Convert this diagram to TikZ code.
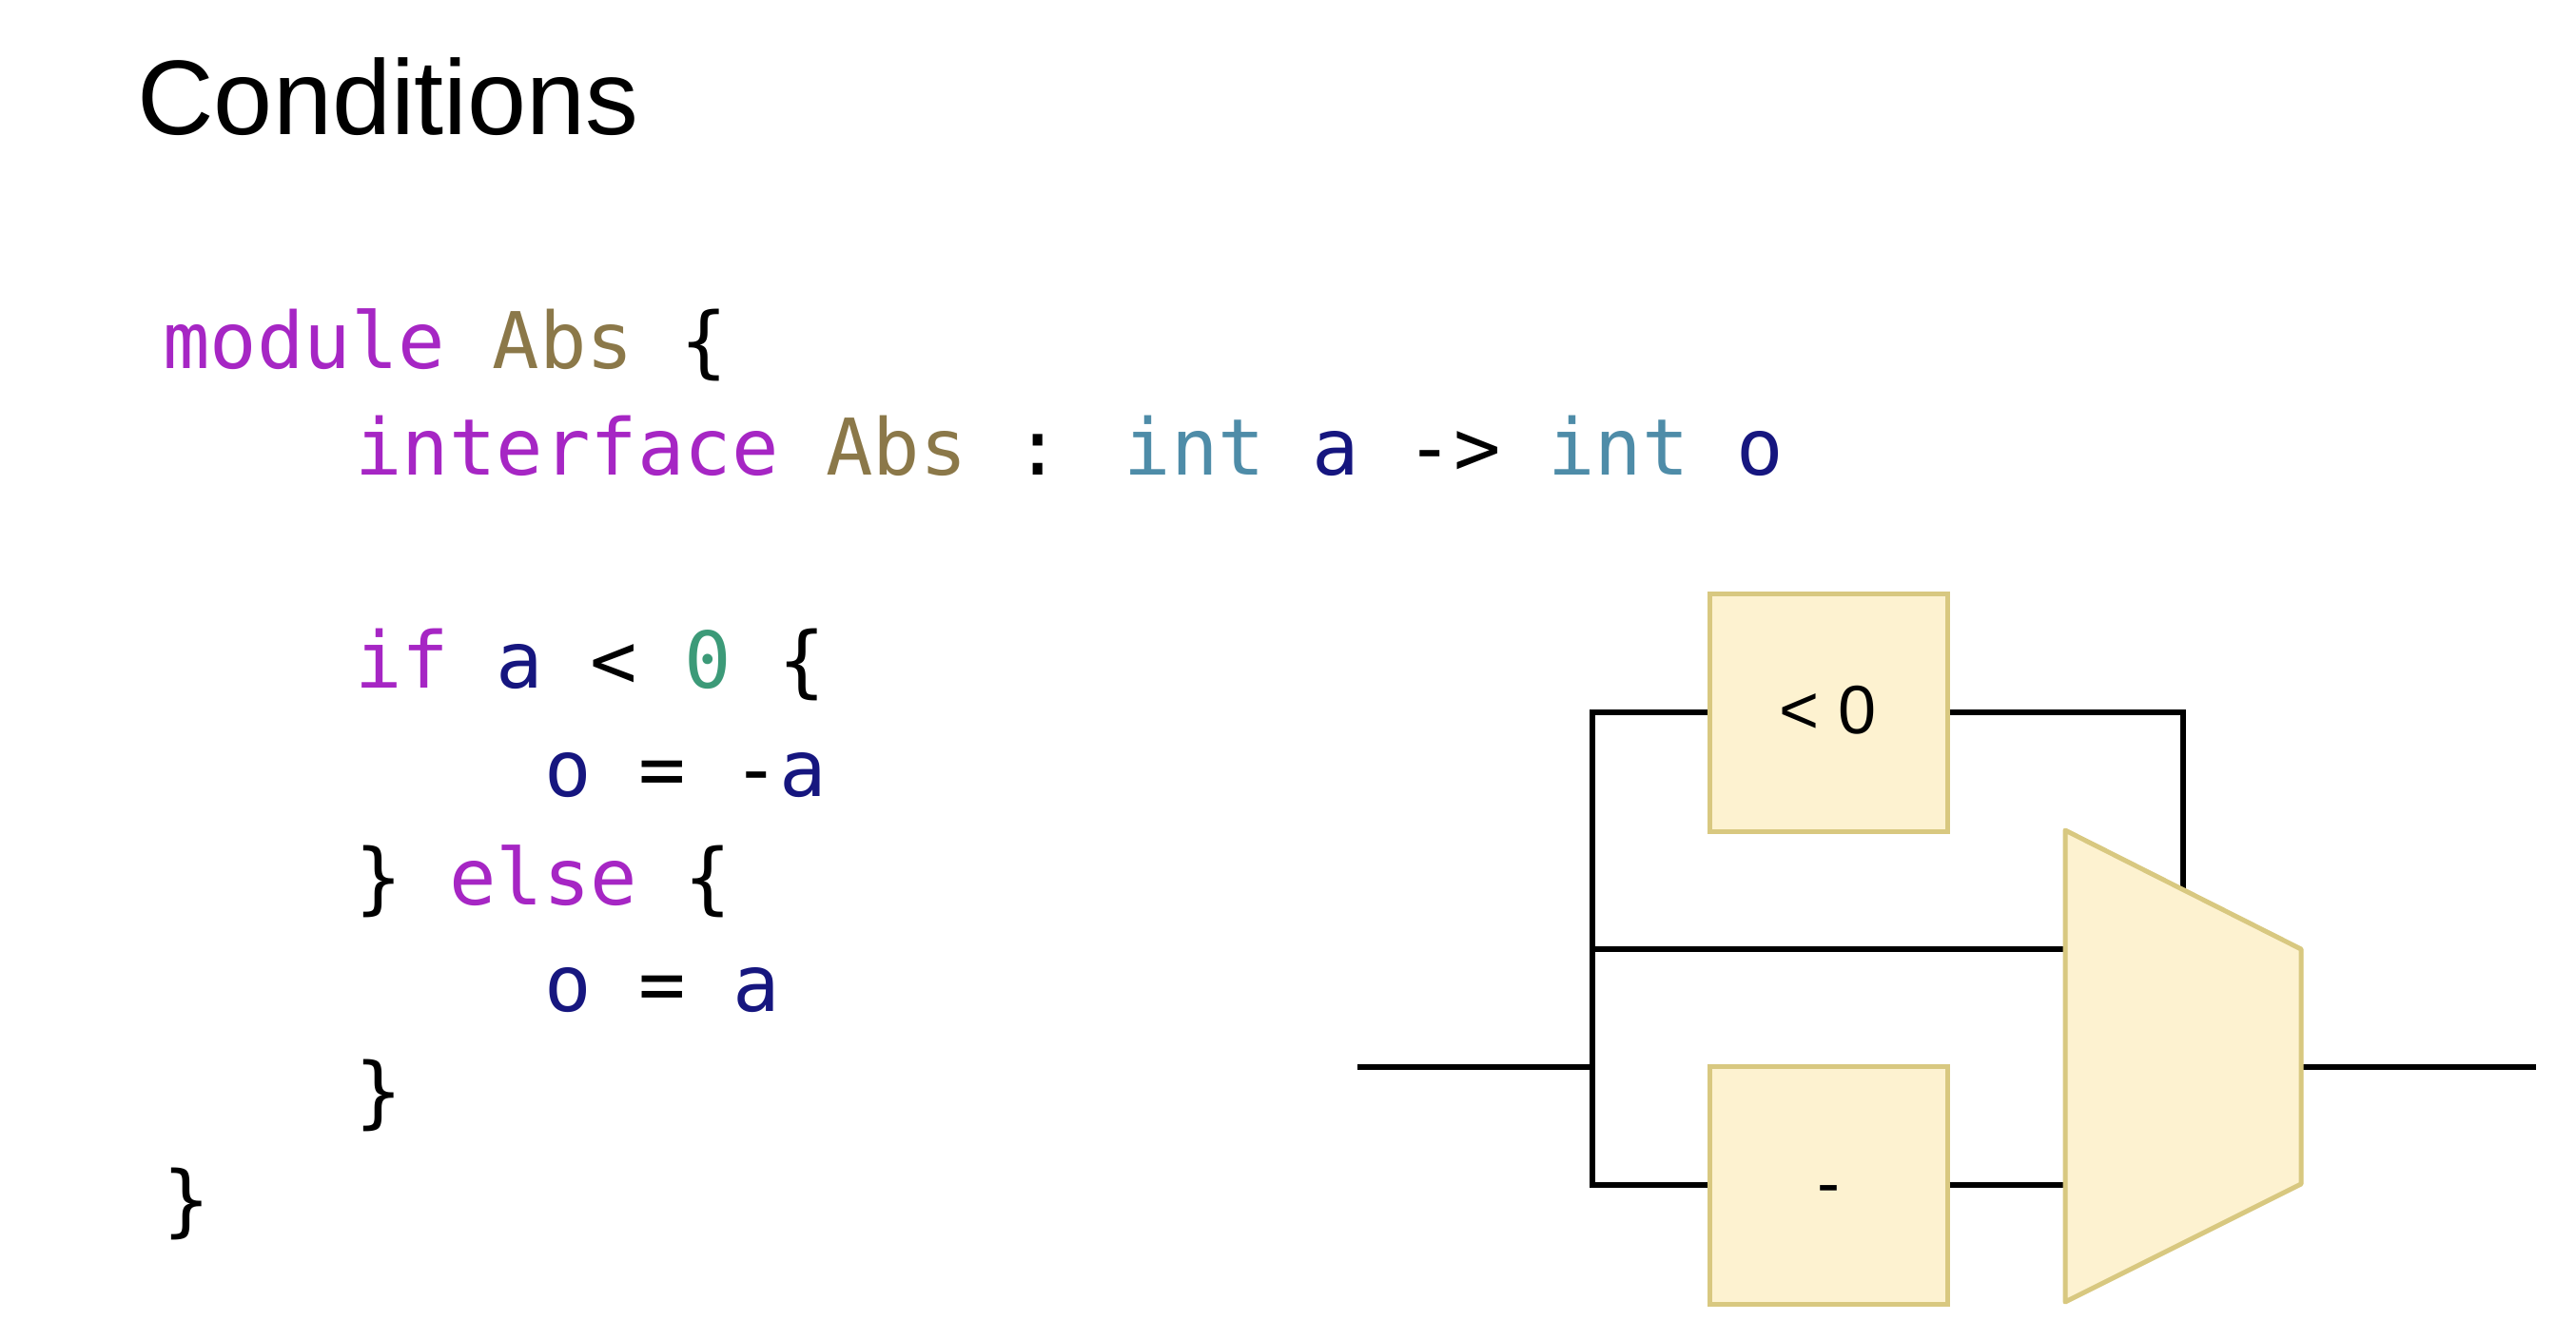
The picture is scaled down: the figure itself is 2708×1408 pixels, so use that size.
\documentclass[tikz,border=0pt]{standalone}
\usepackage{fontspec}
\setmainfont{Liberation Sans}
\newfontfamily\codefont{DejaVu Sans Mono}
\definecolor{kwcolor}{HTML}{A626C4}
\definecolor{namecolor}{HTML}{8B7849}
\definecolor{typecolor}{HTML}{4E8CA8}
\definecolor{varcolor}{HTML}{16167F}
\definecolor{numcolor}{HTML}{3C9A78}
\definecolor{blockfill}{HTML}{FDF2D0}
\definecolor{blockedge}{HTML}{D8C880}
\newcommand{\kw}[1]{\textcolor{kwcolor}{#1}}
\newcommand{\nm}[1]{\textcolor{namecolor}{#1}}
\newcommand{\ty}[1]{\textcolor{typecolor}{#1}}
\newcommand{\vr}[1]{\textcolor{varcolor}{#1}}
\newcommand{\nb}[1]{\textcolor{numcolor}{#1}}
\newcommand{\lowered}[1]{\raisebox{-11pt}[0pt][0pt]{#1}}
\tikzset{
  code/.style = {anchor=base west, inner sep=0pt, font=\codefont\fontsize{41.1}{50}\selectfont},
  block/.style = {draw=blockedge, fill=blockfill, line width=2.5pt, minimum size=125pt, inner sep=0pt, font=\fontsize{36}{40}\selectfont},
  wire/.style = {black, line width=2.8pt}
}
\begin{document}
\begin{tikzpicture}[x=0.5pt, y=-0.5pt]
  \useasboundingbox (0,0) rectangle (2708,1408);
  \node[anchor=base west, inner sep=0pt, font=\fontsize{55.8}{60}\selectfont] (title) at (144,141) {Conditions};

  % code
  \node[code] (l1) at (171,387) {\kw{module} \nm{Abs} \{};
  \node[code] (l2) at (373,499) {\kw{interface} \nm{Abs} : \ty{int} \vr{a} -> \ty{int} \vr{o}};
  \node[code] (l3) at (373,723) {\kw{if} \vr{a} < \nb{0} \{};
  \node[code] (l4) at (572,837) {\vr{o} = -\vr{a}};
  \node[code] (l5) at (373,951) {\} \kw{else} \{};
  \node[code] (l6) at (572,1063) {\vr{o} = \vr{a}};
  \node[code] (l7) at (373,1176) {\}};
  \node[code] (l8) at (171,1290) {\}};

  % blocks and wires
  \node[block] (less) at (1922,749) {\lowered{< 0}};
  \node[block] (neg) at (1922,1246) {\lowered{-}};
  \coordinate (in) at (1427,1122);
  \coordinate (out) at (2666,1122);
  \coordinate (bus) at (1674,1122);
  \coordinate (mux a) at (2171,873);
  \coordinate (mux b) at (2419,998);
  \coordinate (mux c) at (2419,1245);
  \coordinate (mux d) at (2171,1369);
  \coordinate (sel) at (2295,935);

  \draw[wire] (in) -- (bus);
  \draw[wire] (less.west) -| (bus) |- (neg.west);
  \draw[wire] (less.east) -| (sel);
  \draw[wire] (bus |- mux b) -- (mux a |- mux b);
  \draw[wire] (neg.east) -- (mux a |- neg.east);
  \draw[wire] (mux b |- out) -- (out);
  \draw[draw=blockedge, fill=blockfill, line width=2.5pt, line join=round] (mux a) -- (mux b) -- (mux c) -- (mux d) -- cycle;
\end{tikzpicture}
\end{document}
